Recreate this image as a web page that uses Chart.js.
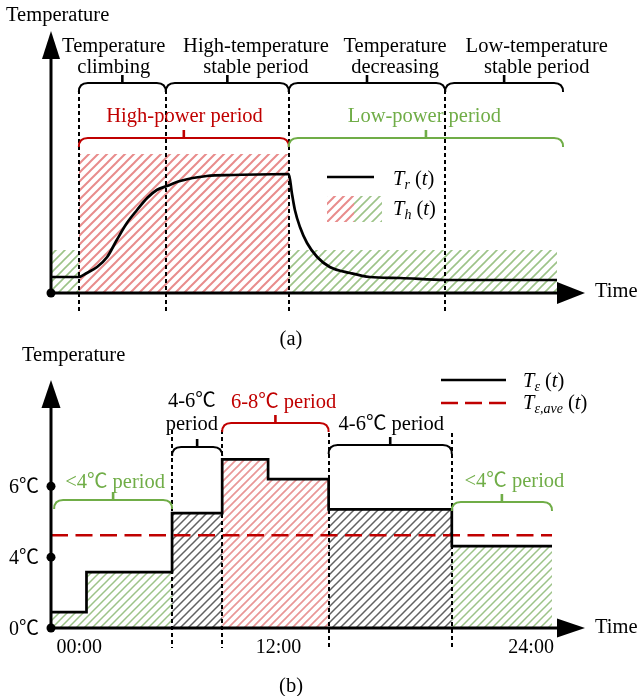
<!DOCTYPE html>
<html><head><meta charset="utf-8">
<script src="https://cdn.jsdelivr.net/npm/chart.js@4.4.1/dist/chart.umd.min.js"></script>
<style>
html,body{margin:0;padding:0;background:#fff;width:638px;height:696px;overflow:hidden}
canvas{position:absolute;left:0;top:0}
</style></head>
<body>
<canvas id="ca" width="638" height="696"></canvas>
<canvas id="cb" width="638" height="696"></canvas>
<script>
// ================= DATA =================
// ---- Panel (a): schematic time units 0..100, schematic temperature units ----
const phaseBoundsA = [5.5, 22.7, 47.0, 77.9];
const timeEndA = 100;
const phaseLabelsA = [["Temperature", "climbing"], ["High-temperature", "stable period"], ["Temperature", "decreasing"], ["Low-temperature", "stable period"]];
const phaseLabelXA = [12.4, 40.5, 68.0, 96.0];
const powerLabelsA = ["High-power period", "Low-power period"];
const powerLabelXA = [26.4, 73.8];
// T_r(t)
const trX = [0, 5.5, 7.1, 9.1, 11.1, 13.0, 15.0, 17.0, 19.0, 20.9, 22.9, 25.5, 30.8, 36.0, 47.0, 47.6, 48.2, 49.2, 50.6, 52.6, 55.1, 59.1, 63.0, 69.0, 77.9, 100];
const trY = [1.6, 1.6, 2.0, 2.6, 3.6, 5.3, 7.0, 8.3, 9.5, 10.3, 10.7, 11.2, 11.7, 11.8, 11.9, 10.0, 8.3, 6.6, 5.0, 3.6, 2.6, 2.0, 1.6, 1.5, 1.3, 1.3];
// T_h(t): step levels between thX breakpoints
const thX = [0, 5.5, 47.0, 100];
const thY = [4.3, 13.9, 4.3];

// ---- Panel (b): hours, °C ----
const hoursB = [0, 1.7, 5.8, 8.2, 10.4, 13.3, 19.2, 24];
const tempB = [0.9, 3.15, 5.24, 6.76, 6.2, 5.35, 4.31, 4.31];
const tAvgB = 4.62;
const periodBoundsB = [0, 5.8, 8.2, 13.3, 19.2, 24];
const periodBandB = ["low", "mid", "high", "mid", "low"];
const periodLabelsB = [["<4℃ period"], ["4-6℃", "period"], ["6-8℃ period"], ["4-6℃ period"], ["<4℃ period"]];
const periodLabelXB = [3.07, 6.75, 11.14, 16.3, 22.2];
const yTicksB = [0, 4, 6];
const yTickLabelsB = ["0℃", "4℃", "6℃"];
const xTickPosB = [1.35, 10.9, 23.0];
const xTickLabelsB = ["00:00", "12:00", "24:00"];
const yKnots = [0, 4, 6, 8, 10];   // schematic axis: equal spacing between these values

// ================= STYLE HELPERS =================
const SERIF = '"Liberation Serif", "Times New Roman", serif';
const CJK = '"Noto Sans CJK SC", "DejaVu Sans", sans-serif';
const RED = '#c00000', GREEN = '#70ad47';

function hatch(color, s, w) {
  const c = document.createElement('canvas'); c.width = s; c.height = s;
  const g = c.getContext('2d'); g.strokeStyle = color; g.lineWidth = w;
  g.beginPath();
  for (let k = -1; k <= 1; k++) { g.moveTo(k * s - 1, s + 1); g.lineTo(k * s + s + 1, -1); }
  g.stroke();
  return g.createPattern(c, 'repeat');
}
const patRedA = hatch('rgba(228,120,120,0.85)', 9, 2);
const patGreenA = hatch('rgba(140,185,115,0.85)', 9, 1.6);
const patRedB = hatch('rgba(228,125,125,0.8)', 8, 1.7);
const patGreenB = hatch('rgba(140,185,115,0.85)', 8, 1.5);
const patGrayB = hatch('rgba(70,70,70,0.85)', 8, 1.5);

function runsOf(s, size) {
  const parts = s.split('℃'); const r = [];
  parts.forEach((p, i) => {
    if (p) r.push({ t: p, font: `${size}px ${SERIF}` });
    if (i < parts.length - 1) r.push({ t: '℃', font: `${size}px ${CJK}` });
  });
  return r;
}
function drawRuns(ctx, runs, x, y, align, color) {
  let w = 0;
  runs.forEach(r => { ctx.font = r.font; r.w = ctx.measureText(r.t).width; w += r.w; });
  let cx = align === 'center' ? x - w / 2 : align === 'right' ? x - w : x;
  ctx.textAlign = 'left'; ctx.textBaseline = 'alphabetic'; ctx.fillStyle = color || '#000';
  runs.forEach(r => { ctx.font = r.font; ctx.fillText(r.t, cx, y + (r.dy || 0)); cx += r.w; });
}
function text(ctx, s, x, y, size, align, color) { drawRuns(ctx, runsOf(s, size), x, y, align, color); }
function seg(ctx, x1, y1, x2, y2) { ctx.beginPath(); ctx.moveTo(x1, y1); ctx.lineTo(x2, y2); ctx.stroke(); }
function tri(ctx, pts) { ctx.beginPath(); ctx.moveTo(pts[0], pts[1]); ctx.lineTo(pts[2], pts[3]); ctx.lineTo(pts[4], pts[5]); ctx.closePath(); ctx.fill(); }
function bracket(ctx, x1, x2, y, color) {
  const r = 9;
  ctx.strokeStyle = color; ctx.lineWidth = 2; ctx.setLineDash([]);
  ctx.beginPath();
  ctx.moveTo(x1, y + r); ctx.quadraticCurveTo(x1, y, x1 + r, y);
  ctx.lineTo(x2 - r, y); ctx.quadraticCurveTo(x2, y, x2, y + r);
  ctx.stroke();
  ctx.lineWidth = 2.6;
  const m = (x1 + x2) / 2; seg(ctx, m, y, m, y - 8);
}
function dot(ctx, x, y) { ctx.beginPath(); ctx.arc(x, y, 4.5, 0, Math.PI * 2); ctx.fill(); }
function dashedV(ctx, x, y1, y2) {
  ctx.strokeStyle = '#000'; ctx.lineWidth = 2; ctx.setLineDash([4, 3]);
  seg(ctx, x, y1, x, y2); ctx.setLineDash([]);
}
const FS = 20.5;

// ================= PANEL (a) =================
const pluginA = {
  id: 'annA',
  afterDraw(chart) {
    const { ctx, chartArea: ca, scales: { x } } = chart;
    ctx.save();
    phaseBoundsA.forEach(b => dashedV(ctx, Math.round(x.getPixelForValue(b)), 90, 313));
    // axes
    ctx.strokeStyle = '#000'; ctx.fillStyle = '#000'; ctx.lineWidth = 3;
    seg(ctx, ca.left, ca.bottom, ca.left, ca.top + 20);
    tri(ctx, [ca.left, ca.top, ca.left - 9, ca.top + 28, ca.left + 9, ca.top + 28]);
    seg(ctx, ca.left, ca.bottom, ca.right + 2, ca.bottom);
    tri(ctx, [ca.right + 28, ca.bottom, ca.right, ca.bottom - 11, ca.right, ca.bottom + 11]);
    dot(ctx, ca.left, ca.bottom);
    text(ctx, 'Time', ca.right + 38, ca.bottom + 4, FS, 'left');
    text(ctx, 'Temperature', 6, 21, FS, 'left');
    text(ctx, '(a)', 291, 345, FS, 'center');
    // phase brackets
    const ph = [[phaseBoundsA[0], phaseBoundsA[1]], [phaseBoundsA[1], phaseBoundsA[2]], [phaseBoundsA[2], phaseBoundsA[3]], [phaseBoundsA[3], timeEndA + 1.2]];
    ph.forEach((p, i) => {
      bracket(ctx, x.getPixelForValue(p[0]), x.getPixelForValue(p[1]), 83, '#000');
      const cx = x.getPixelForValue(phaseLabelXA[i]);
      text(ctx, phaseLabelsA[i][0], cx, 52, FS, 'center');
      text(ctx, phaseLabelsA[i][1], cx, 73, FS, 'center');
    });
    // power brackets
    bracket(ctx, x.getPixelForValue(phaseBoundsA[0]), x.getPixelForValue(phaseBoundsA[2]), 138, RED);
    bracket(ctx, x.getPixelForValue(phaseBoundsA[2]), x.getPixelForValue(timeEndA + 1.2), 138, GREEN);
    text(ctx, powerLabelsA[0], x.getPixelForValue(powerLabelXA[0]), 122, FS, 'center', RED);
    text(ctx, powerLabelsA[1], x.getPixelForValue(powerLabelXA[1]), 122, FS, 'center', GREEN);
    // legend
    ctx.strokeStyle = '#000'; ctx.lineWidth = 2.6; seg(ctx, 327, 177, 374, 177);
    ctx.fillStyle = patRedA; ctx.fillRect(327, 196, 27, 26);
    ctx.fillStyle = patGreenA; ctx.fillRect(354, 196, 28, 26);
    const it = `italic ${FS}px ${SERIF}`, up = `${FS}px ${SERIF}`, sub = `italic 14px ${SERIF}`;
    drawRuns(ctx, [{ t: 'T', font: it }, { t: 'r', font: sub, dy: 4 }, { t: ' (', font: up }, { t: 't', font: it }, { t: ')', font: up }], 393, 185, 'left', '#000');
    drawRuns(ctx, [{ t: 'T', font: it }, { t: 'h', font: sub, dy: 4 }, { t: ' (', font: up }, { t: 't', font: it }, { t: ')', font: up }], 393, 215, 'left', '#000');
    ctx.restore();
  }
};

const thSets = thY.map((lvl, i) => ({
  data: [{ x: thX[i], y: lvl }, { x: thX[i + 1], y: lvl }],
  fill: 'origin', backgroundColor: lvl > 8 ? patRedA : patGreenA,
  borderColor: 'rgba(0,0,0,0)', borderWidth: 0, pointRadius: 0, order: 2
}));

new Chart(document.getElementById('ca'), {
  type: 'line',
  data: {
    datasets: [
      { data: trX.map((v, i) => ({ x: v, y: trY[i] })), borderColor: '#000', borderWidth: 2.7, pointRadius: 0, cubicInterpolationMode: 'monotone', fill: false, order: 0 },
      ...thSets
    ]
  },
  options: {
    responsive: false, animation: false, events: [],
    layout: { padding: { left: 51, right: 81, top: 31, bottom: 403 } },
    scales: {
      x: { type: 'linear', min: 0, max: timeEndA, display: false },
      y: { type: 'linear', min: 0, max: 26.2, display: false }
    },
    plugins: { legend: { display: false }, tooltip: { enabled: false } }
  },
  plugins: [pluginA]
});

// ================= PANEL (b) =================
function toU(v) {
  const k = yKnots;
  if (v <= k[0]) return (v - k[0]) / (k[1] - k[0]);
  for (let i = 0; i < k.length - 1; i++) if (v <= k[i + 1]) return i + (v - k[i]) / (k[i + 1] - k[i]);
  const n = k.length - 1; return n + (v - k[n]) / (k[n] - k[n - 1]);
}
function fromU(u) {
  const k = yKnots;
  const i = Math.max(0, Math.min(k.length - 2, Math.floor(u)));
  return k[i] + (u - i) * (k[i + 1] - k[i]);
}
class KnotScale extends Chart.LinearScale {
  getPixelForValue(value) {
    if (value === null || value === undefined || isNaN(value)) return NaN;
    const u0 = toU(this.min), u1 = toU(this.max);
    return this.getPixelForDecimal((toU(value) - u0) / (u1 - u0));
  }
  getValueForPixel(pixel) {
    const u0 = toU(this.min), u1 = toU(this.max);
    return fromU(u0 + this.getDecimalForPixel(pixel) * (u1 - u0));
  }
}
KnotScale.id = 'knot';
KnotScale.defaults = Chart.LinearScale.defaults;
Chart.register(KnotScale);

const bandStyle = { low: { pat: patGreenB, col: GREEN }, mid: { pat: patGrayB, col: '#000' }, high: { pat: patRedB, col: RED } };
const bracketYB = [500, 447, 423, 445, 502];
const labelYB = [[488], [407, 430], [408], [430], [487]];

const hatchSetsB = periodBandB.map((band, p) => {
  const a = periodBoundsB[p], b = periodBoundsB[p + 1];
  const pts = [];
  hoursB.forEach((h, i) => { if (h >= a && h < b) pts.push({ x: h, y: tempB[i] }); });
  pts.push({ x: b, y: pts[pts.length - 1].y });
  return { data: pts, stepped: 'before', fill: 'origin', backgroundColor: bandStyle[band].pat, borderColor: 'rgba(0,0,0,0)', borderWidth: 0, pointRadius: 0, order: 3 };
});

const pluginB = {
  id: 'annB',
  afterDraw(chart) {
    const { ctx, chartArea: ca, scales: { x, y } } = chart;
    ctx.save();
    // dashed period boundaries
    periodBoundsB.slice(1, -1).forEach((b, i) => dashedV(ctx, Math.round(x.getPixelForValue(b)), i < 2 ? 430 : 433, 648));
    // axes
    ctx.strokeStyle = '#000'; ctx.fillStyle = '#000'; ctx.lineWidth = 3;
    seg(ctx, ca.left, ca.bottom, ca.left, ca.top + 20);
    tri(ctx, [ca.left, ca.top, ca.left - 9.5, ca.top + 28, ca.left + 9.5, ca.top + 28]);
    seg(ctx, ca.left, ca.bottom, ca.right + 7, ca.bottom);
    tri(ctx, [ca.right + 33, ca.bottom, ca.right + 5, ca.bottom - 9.5, ca.right + 5, ca.bottom + 9.5]);
    yTicksB.forEach((t, i) => {
      const py = y.getPixelForValue(t);
      ctx.fillStyle = '#000'; dot(ctx, ca.left, py);
      text(ctx, yTickLabelsB[i], 9, py + 7, 20, 'left');
    });
    xTickPosB.forEach((t, i) => text(ctx, xTickLabelsB[i], x.getPixelForValue(t), ca.bottom + 25, 20, 'center'));
    text(ctx, 'Time', ca.right + 43, ca.bottom + 5, FS, 'left');
    text(ctx, 'Temperature', 22, 361, FS, 'left');
    text(ctx, '(b)', 291, 692, FS, 'center');
    // brackets and labels
    periodBandB.forEach((band, p) => {
      const a = p === 0 ? periodBoundsB[0] + 0.15 : periodBoundsB[p];
      const b = periodBoundsB[p + 1];
      const col = bandStyle[band].col;
      bracket(ctx, x.getPixelForValue(a), x.getPixelForValue(b), bracketYB[p], col);
      periodLabelsB[p].forEach((ln, j) => text(ctx, ln, x.getPixelForValue(periodLabelXB[p]), labelYB[p][j], FS, 'center', col));
    });
    // legend
    ctx.strokeStyle = '#000'; ctx.lineWidth = 2.6; seg(ctx, 441, 380, 506, 380);
    ctx.strokeStyle = RED; ctx.setLineDash([17, 7]); seg(ctx, 441, 403, 506, 403); ctx.setLineDash([]);
    const it = `italic ${FS}px ${SERIF}`, up = `${FS}px ${SERIF}`, sub = `italic 14px ${SERIF}`;
    drawRuns(ctx, [{ t: 'T', font: it }, { t: 'ε', font: sub, dy: 4 }, { t: ' (', font: up }, { t: 't', font: it }, { t: ')', font: up }], 523, 387, 'left', '#000');
    drawRuns(ctx, [{ t: 'T', font: it }, { t: 'ε,ave', font: sub, dy: 4 }, { t: ' (', font: up }, { t: 't', font: it }, { t: ')', font: up }], 523, 409, 'left', '#000');
    ctx.restore();
  }
};

new Chart(document.getElementById('cb'), {
  type: 'line',
  data: {
    datasets: [
      { data: hoursB.map((h, i) => ({ x: h, y: tempB[i] })), stepped: 'before', borderColor: '#000', borderWidth: 2.7, pointRadius: 0, fill: false, order: 0 },
      { data: [{ x: 0, y: tAvgB }, { x: 24, y: tAvgB }], borderColor: RED, borderWidth: 2.5, borderDash: [17, 7.5], pointRadius: 0, fill: false, order: 1 },
      ...hatchSetsB
    ]
  },
  options: {
    responsive: false, animation: false, events: [],
    layout: { padding: { left: 51, right: 86, top: 380, bottom: 68 } },
    scales: {
      x: { type: 'linear', min: 0, max: 24, display: false },
      y: { type: 'knot', min: 0, max: 9, display: false }
    },
    plugins: { legend: { display: false }, tooltip: { enabled: false } }
  },
  plugins: [pluginB]
});
</script>
</body></html>
